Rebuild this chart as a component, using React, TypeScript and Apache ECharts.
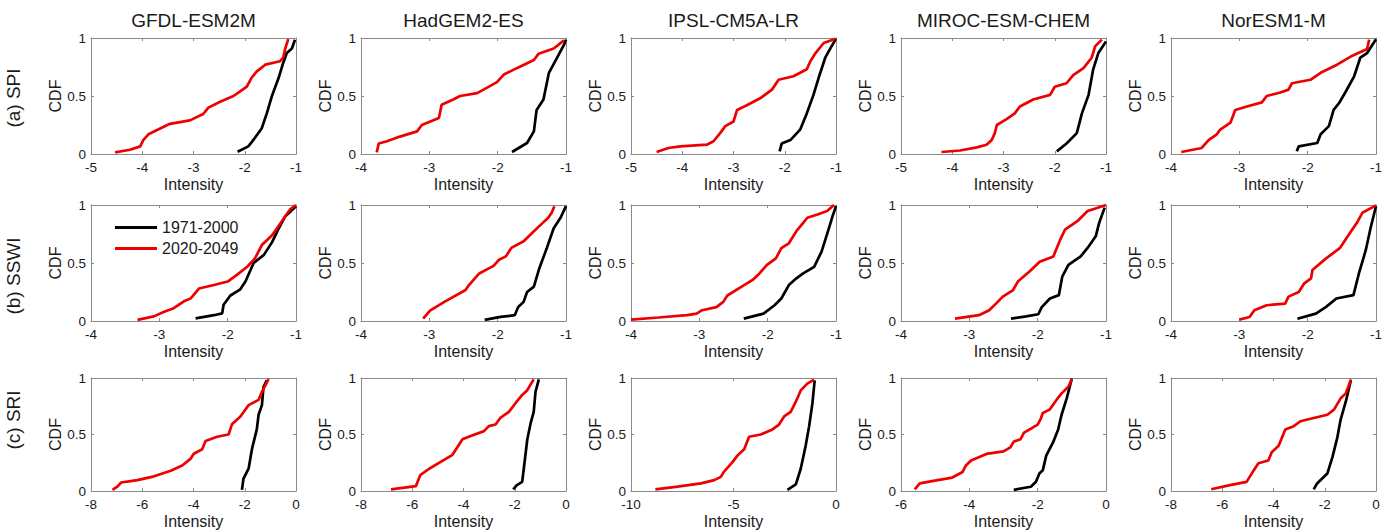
import React, { useEffect, useRef } from "react";
import * as echarts from "echarts";

const MODELS = ["GFDL-ESM2M", "HadGEM2-ES", "IPSL-CM5A-LR", "MIROC-ESM-CHEM", "NorESM1-M"];
const ROW_LABELS = ["(a) SPI", "(b) SSWI", "(c) SRI"];
const SERIES_NAMES = ["1971-2000", "2020-2049"];

const X_MIN = [
  [-5, -4, -5, -5, -4],
  [-4, -4, -4, -4, -4],
  [-8, -8, -10, -6, -8],
];
const X_MAX = [-1, -1, 0];
const X_INTERVAL = [
  [1, 1, 1, 1, 1],
  [1, 1, 1, 1, 1],
  [2, 2, 5, 2, 2],
];

// SPI
const spiGfdlHist = [[-2.14,0.02],[-1.93,0.066],[-1.8,0.14],[-1.67,0.22],[-1.57,0.35],[-1.47,0.5],[-1.34,0.655],[-1.25,0.785],[-1.18,0.87],[-1.08,0.91],[-1.02,0.985]];
const spiGfdlFut = [[-4.53,0.014],[-4.24,0.037],[-4.04,0.066],[-3.98,0.12],[-3.88,0.17],[-3.65,0.22],[-3.46,0.26],[-3.07,0.29],[-2.81,0.345],[-2.71,0.4],[-2.48,0.45],[-2.22,0.5],[-2.09,0.54],[-1.96,0.58],[-1.87,0.655],[-1.77,0.71],[-1.6,0.77],[-1.31,0.8],[-1.25,0.83],[-1.21,0.91],[-1.15,0.99]];
const spiHadHist = [[-1.79,0.017],[-1.57,0.095],[-1.47,0.195],[-1.43,0.38],[-1.33,0.47],[-1.25,0.7],[-1.13,0.83],[-1.03,0.94],[-1.0,0.986]];
const spiHadFut = [[-3.77,0.014],[-3.74,0.09],[-3.62,0.11],[-3.43,0.15],[-3.18,0.195],[-3.11,0.25],[-2.94,0.29],[-2.86,0.31],[-2.82,0.425],[-2.65,0.47],[-2.55,0.5],[-2.3,0.525],[-2.16,0.57],[-2.01,0.62],[-1.91,0.685],[-1.72,0.74],[-1.47,0.81],[-1.4,0.865],[-1.18,0.91],[-1.03,0.98]];
const spiIpslHist = [[-2.1,0.023],[-2.06,0.09],[-1.89,0.12],[-1.7,0.21],[-1.57,0.35],[-1.44,0.51],[-1.34,0.655],[-1.21,0.83],[-1.11,0.91],[-1.0,0.994]];
const spiIpslFut = [[-4.5,0.017],[-4.27,0.052],[-4.04,0.066],[-3.52,0.08],[-3.39,0.11],[-3.26,0.18],[-3.16,0.24],[-3.0,0.28],[-2.93,0.38],[-2.74,0.42],[-2.48,0.48],[-2.25,0.555],[-2.12,0.64],[-1.83,0.67],[-1.57,0.73],[-1.5,0.8],[-1.4,0.87],[-1.24,0.957],[-1.01,0.994]];
const spiMirocHist = [[-1.96,0.023],[-1.77,0.09],[-1.57,0.18],[-1.47,0.35],[-1.34,0.51],[-1.25,0.73],[-1.15,0.87],[-1.0,0.97]];
const spiMirocFut = [[-4.21,0.017],[-3.85,0.03],[-3.52,0.057],[-3.33,0.08],[-3.23,0.12],[-3.17,0.18],[-3.13,0.25],[-2.94,0.3],[-2.78,0.35],[-2.68,0.41],[-2.42,0.47],[-2.09,0.51],[-2.0,0.58],[-1.77,0.61],[-1.64,0.68],[-1.44,0.74],[-1.28,0.83],[-1.21,0.93],[-1.08,0.986]];
const spiNorHist = [[-2.16,0.023],[-2.13,0.066],[-1.86,0.095],[-1.81,0.17],[-1.69,0.24],[-1.62,0.38],[-1.54,0.44],[-1.45,0.53],[-1.32,0.67],[-1.23,0.83],[-1.13,0.87],[-1.0,0.99]];
const spiNorFut = [[-3.85,0.017],[-3.55,0.052],[-3.45,0.12],[-3.33,0.17],[-3.28,0.21],[-3.13,0.27],[-3.06,0.38],[-2.89,0.41],[-2.67,0.445],[-2.6,0.5],[-2.4,0.53],[-2.28,0.555],[-2.23,0.61],[-1.96,0.64],[-1.81,0.7],[-1.57,0.77],[-1.37,0.84],[-1.13,0.905],[-1.1,0.986]];

// SSWI
const sswiGfdlHist = [[-2.47,0.023],[-2.2,0.05],[-2.08,0.066],[-2.06,0.14],[-1.96,0.22],[-1.82,0.27],[-1.74,0.34],[-1.62,0.5],[-1.47,0.57],[-1.35,0.68],[-1.26,0.79],[-1.16,0.9],[-1.0,0.99]];
const sswiGfdlFut = [[-3.32,0.01],[-3.08,0.04],[-2.93,0.08],[-2.79,0.11],[-2.64,0.17],[-2.54,0.195],[-2.42,0.28],[-2.2,0.31],[-2.0,0.34],[-1.86,0.4],[-1.71,0.47],[-1.6,0.54],[-1.5,0.655],[-1.35,0.74],[-1.23,0.84],[-1.09,0.96],[-1.0,1.0]];
const sswiHadHist = [[-2.19,0.01],[-1.96,0.035],[-1.75,0.05],[-1.7,0.12],[-1.62,0.165],[-1.57,0.25],[-1.47,0.296],[-1.39,0.455],[-1.28,0.63],[-1.18,0.8],[-1.08,0.89],[-1.0,0.99]];
const sswiHadFut = [[-3.09,0.02],[-2.99,0.09],[-2.78,0.165],[-2.47,0.267],[-2.42,0.31],[-2.27,0.41],[-2.06,0.475],[-1.98,0.528],[-1.88,0.557],[-1.8,0.63],[-1.62,0.687],[-1.47,0.774],[-1.34,0.846],[-1.26,0.89],[-1.21,0.933],[-1.17,0.99]];
const sswiIpslHist = [[-2.35,0.02],[-2.06,0.064],[-1.9,0.136],[-1.8,0.194],[-1.69,0.31],[-1.58,0.368],[-1.48,0.41],[-1.32,0.467],[-1.21,0.6],[-1.11,0.788],[-1.05,0.904],[-1.0,0.99]];
const sswiIpslFut = [[-4.0,0.012],[-3.6,0.03],[-3.18,0.05],[-3.04,0.064],[-2.96,0.093],[-2.75,0.12],[-2.65,0.165],[-2.59,0.22],[-2.38,0.296],[-2.22,0.354],[-2.12,0.41],[-2.01,0.484],[-1.88,0.54],[-1.8,0.628],[-1.69,0.67],[-1.58,0.774],[-1.48,0.846],[-1.42,0.89],[-1.27,0.918],[-1.13,0.948],[-1.03,1.0]];
const sswiMirocHist = [[-2.39,0.02],[-2.17,0.04],[-1.99,0.058],[-1.94,0.12],[-1.82,0.194],[-1.69,0.223],[-1.64,0.383],[-1.55,0.484],[-1.37,0.557],[-1.27,0.63],[-1.15,0.73],[-1.1,0.846],[-1.02,0.977]];
const sswiMirocFut = [[-3.21,0.02],[-2.86,0.05],[-2.71,0.093],[-2.61,0.15],[-2.51,0.21],[-2.36,0.267],[-2.29,0.34],[-2.12,0.426],[-1.97,0.51],[-1.77,0.557],[-1.67,0.7],[-1.6,0.788],[-1.42,0.86],[-1.27,0.948],[-1.12,0.977],[-1.0,1.0]];
const sswiNorHist = [[-2.15,0.02],[-1.88,0.064],[-1.73,0.122],[-1.58,0.194],[-1.33,0.223],[-1.25,0.41],[-1.15,0.61],[-1.08,0.8],[-1.03,0.918],[-1.0,0.99]];
const sswiNorFut = [[-3.0,0.012],[-2.85,0.035],[-2.78,0.093],[-2.6,0.136],[-2.33,0.15],[-2.28,0.21],[-2.13,0.25],[-2.05,0.325],[-1.95,0.368],[-1.93,0.44],[-1.73,0.54],[-1.53,0.628],[-1.38,0.76],[-1.28,0.846],[-1.2,0.933],[-1.0,0.997]];

// SRI
const sriGfdlHist = [[-2.11,0.01],[-2.05,0.11],[-1.85,0.197],[-1.72,0.37],[-1.53,0.545],[-1.46,0.675],[-1.33,0.76],[-1.27,0.92],[-1.14,0.98]];
const sriGfdlFut = [[-7.16,0.01],[-6.96,0.04],[-6.83,0.075],[-6.19,0.096],[-5.54,0.13],[-4.89,0.18],[-4.44,0.226],[-4.12,0.284],[-3.99,0.33],[-3.66,0.37],[-3.53,0.443],[-3.08,0.48],[-2.63,0.5],[-2.5,0.59],[-2.17,0.66],[-1.85,0.76],[-1.46,0.806],[-1.33,0.878],[-1.07,0.99]];
const sriHadHist = [[-2.06,0.015],[-1.93,0.05],[-1.71,0.08],[-1.64,0.21],[-1.51,0.458],[-1.38,0.6],[-1.26,0.7],[-1.19,0.878],[-1.06,0.988]];
const sriHadFut = [[-6.83,0.015],[-5.86,0.043],[-5.69,0.14],[-5.34,0.197],[-4.76,0.275],[-4.43,0.32],[-4.04,0.458],[-3.72,0.487],[-3.2,0.53],[-3.01,0.574],[-2.75,0.588],[-2.55,0.65],[-2.23,0.7],[-1.97,0.777],[-1.71,0.85],[-1.52,0.89],[-1.26,0.988]];
const sriIpslHist = [[-2.37,0.01],[-1.96,0.058],[-1.72,0.197],[-1.48,0.4],[-1.31,0.574],[-1.15,0.777],[-1.04,0.98]];
const sriIpslFut = [[-8.81,0.015],[-7.73,0.038],[-6.59,0.067],[-5.94,0.096],[-5.62,0.125],[-5.45,0.174],[-5.05,0.255],[-4.81,0.313],[-4.48,0.37],[-4.24,0.48],[-3.67,0.5],[-3.1,0.545],[-2.78,0.588],[-2.53,0.66],[-2.21,0.7],[-1.96,0.79],[-1.72,0.89],[-1.4,0.95],[-1.07,0.985]];
const sriMirocHist = [[-2.7,0.01],[-2.2,0.038],[-2.05,0.081],[-1.95,0.154],[-1.85,0.183],[-1.75,0.313],[-1.55,0.43],[-1.4,0.545],[-1.3,0.675],[-1.15,0.82],[-1.05,0.936],[-1.0,0.994]];
const sriMirocFut = [[-5.6,0.015],[-5.45,0.067],[-5.05,0.09],[-4.5,0.119],[-4.2,0.168],[-4.1,0.226],[-3.95,0.27],[-3.5,0.328],[-3.0,0.35],[-2.8,0.386],[-2.7,0.437],[-2.5,0.458],[-2.4,0.516],[-2.15,0.56],[-2.0,0.588],[-1.9,0.646],[-1.85,0.69],[-1.65,0.72],[-1.45,0.806],[-1.3,0.864],[-1.1,0.922],[-1.0,0.994]];
const sriNorHist = [[-2.43,0.015],[-2.3,0.067],[-1.9,0.154],[-1.7,0.3],[-1.51,0.473],[-1.38,0.632],[-1.18,0.79],[-0.98,0.98]];
const sriNorFut = [[-6.43,0.015],[-5.7,0.052],[-5.05,0.081],[-4.85,0.154],[-4.59,0.246],[-4.2,0.27],[-4.07,0.342],[-3.8,0.4],[-3.54,0.545],[-3.21,0.574],[-2.95,0.617],[-2.43,0.646],[-1.9,0.675],[-1.64,0.72],[-1.38,0.82],[-1.18,0.864],[-0.98,0.988]];

const HIST = [
  [spiGfdlHist, spiHadHist, spiIpslHist, spiMirocHist, spiNorHist],
  [sswiGfdlHist, sswiHadHist, sswiIpslHist, sswiMirocHist, sswiNorHist],
  [sriGfdlHist, sriHadHist, sriIpslHist, sriMirocHist, sriNorHist],
];
const FUT = [
  [spiGfdlFut, spiHadFut, spiIpslFut, spiMirocFut, spiNorFut],
  [sswiGfdlFut, sswiHadFut, sswiIpslFut, sswiMirocFut, sswiNorFut],
  [sriGfdlFut, sriHadFut, sriIpslFut, sriMirocFut, sriNorFut],
];

const LEFTS = [91, 361, 631, 901, 1171];
const TOPS = [38, 205, 378];
const HEIGHTS = [116, 116, 115];
const GRID_W = 205;
const FONT = '"Liberation Sans", Arial, sans-serif';
const TEXT = "#1a1a1a";
const AXIS = "#8a8a8a";
const RED = "#ee0000";

export default function App() {
  const ref = useRef<HTMLDivElement>(null);
  useEffect(() => {
    if (!ref.current) return;
    const chart = echarts.init(ref.current, undefined, { renderer: "svg" });
    const grid: any[] = [];
    const xAxis: any[] = [];
    const yAxis: any[] = [];
    const series: any[] = [];
    const graphic: any[] = [];
    let g = 0;
    for (let r = 0; r < 3; r++) {
      for (let c = 0; c < 5; c++) {
        grid.push({ left: LEFTS[c], top: TOPS[r], width: GRID_W, height: HEIGHTS[r] });
        const common = {
          type: "value",
          gridIndex: g,
          splitLine: { show: false },
          axisLine: { show: true, onZero: false, lineStyle: { color: AXIS, width: 1 } },
          axisTick: { show: true, inside: true, length: 3, lineStyle: { color: AXIS } },
        };
        const xmin = X_MIN[r][c];
        const xmax = X_MAX[r];
        const xint = X_INTERVAL[r][c];
        xAxis.push({
          ...common,
          position: "bottom",
          min: xmin,
          max: xmax,
          interval: xint,
          name: "Intensity",
          nameLocation: "middle",
          nameGap: 22,
          nameTextStyle: { fontFamily: FONT, fontSize: 16, color: TEXT },
          axisLabel: { show: true, margin: 6, fontFamily: FONT, fontSize: 13.5, color: TEXT, showMinLabel: true, showMaxLabel: true },
        });
        xAxis.push({
          ...common,
          position: "top",
          min: xmin,
          max: xmax,
          interval: xint,
          axisLabel: { show: false },
        });
        yAxis.push({
          ...common,
          position: "left",
          min: 0,
          max: 1,
          interval: 0.5,
          name: "CDF",
          nameLocation: "middle",
          nameGap: 28,
          nameRotate: 90,
          nameTextStyle: { fontFamily: FONT, fontSize: 16, color: TEXT },
          axisLabel: { show: true, margin: 5, fontFamily: FONT, fontSize: 13.5, color: TEXT },
        });
        yAxis.push({
          ...common,
          position: "right",
          min: 0,
          max: 1,
          interval: 0.5,
          axisLabel: { show: false },
        });
        series.push({
          type: "line",
          name: SERIES_NAMES[0],
          xAxisIndex: 2 * g,
          yAxisIndex: 2 * g,
          data: HIST[r][c],
          symbol: "none",
          lineStyle: { color: "#000", width: 2.7 },
          itemStyle: { color: "#000" },
        });
        series.push({
          type: "line",
          name: SERIES_NAMES[1],
          xAxisIndex: 2 * g,
          yAxisIndex: 2 * g,
          data: FUT[r][c],
          symbol: "none",
          lineStyle: { color: RED, width: 2.7 },
          itemStyle: { color: RED },
        });
        g++;
      }
    }
    MODELS.forEach((m, c) => {
      graphic.push({
        type: "text",
        x: LEFTS[c] + GRID_W / 2,
        y: 20,
        style: { text: m, fontFamily: FONT, fontSize: 19, fill: TEXT, align: "center", verticalAlign: "middle" },
      });
    });
    const rowY = [98, 276, 420];
    ROW_LABELS.forEach((t, r) => {
      graphic.push({
        type: "text",
        x: 13,
        y: rowY[r],
        rotation: Math.PI / 2,
        style: { text: t, fontFamily: FONT, fontSize: 19, fill: TEXT, align: "center", verticalAlign: "middle" },
      });
    });
    chart.setOption({
      animation: false,
      backgroundColor: "#fff",
      grid,
      xAxis,
      yAxis,
      series,
      graphic,
      legend: {
        data: SERIES_NAMES,
        orient: "vertical",
        left: 110,
        top: 214,
        icon: "rect",
        itemWidth: 42,
        itemHeight: 3,
        itemGap: 4,
        textStyle: { fontFamily: FONT, fontSize: 16, color: TEXT, lineHeight: 17 },
      },
    });
    return () => chart.dispose();
  }, []);
  return <div ref={ref} style={{ position: "absolute", left: 0, top: 0, width: 1392, height: 530 }} />;
}
